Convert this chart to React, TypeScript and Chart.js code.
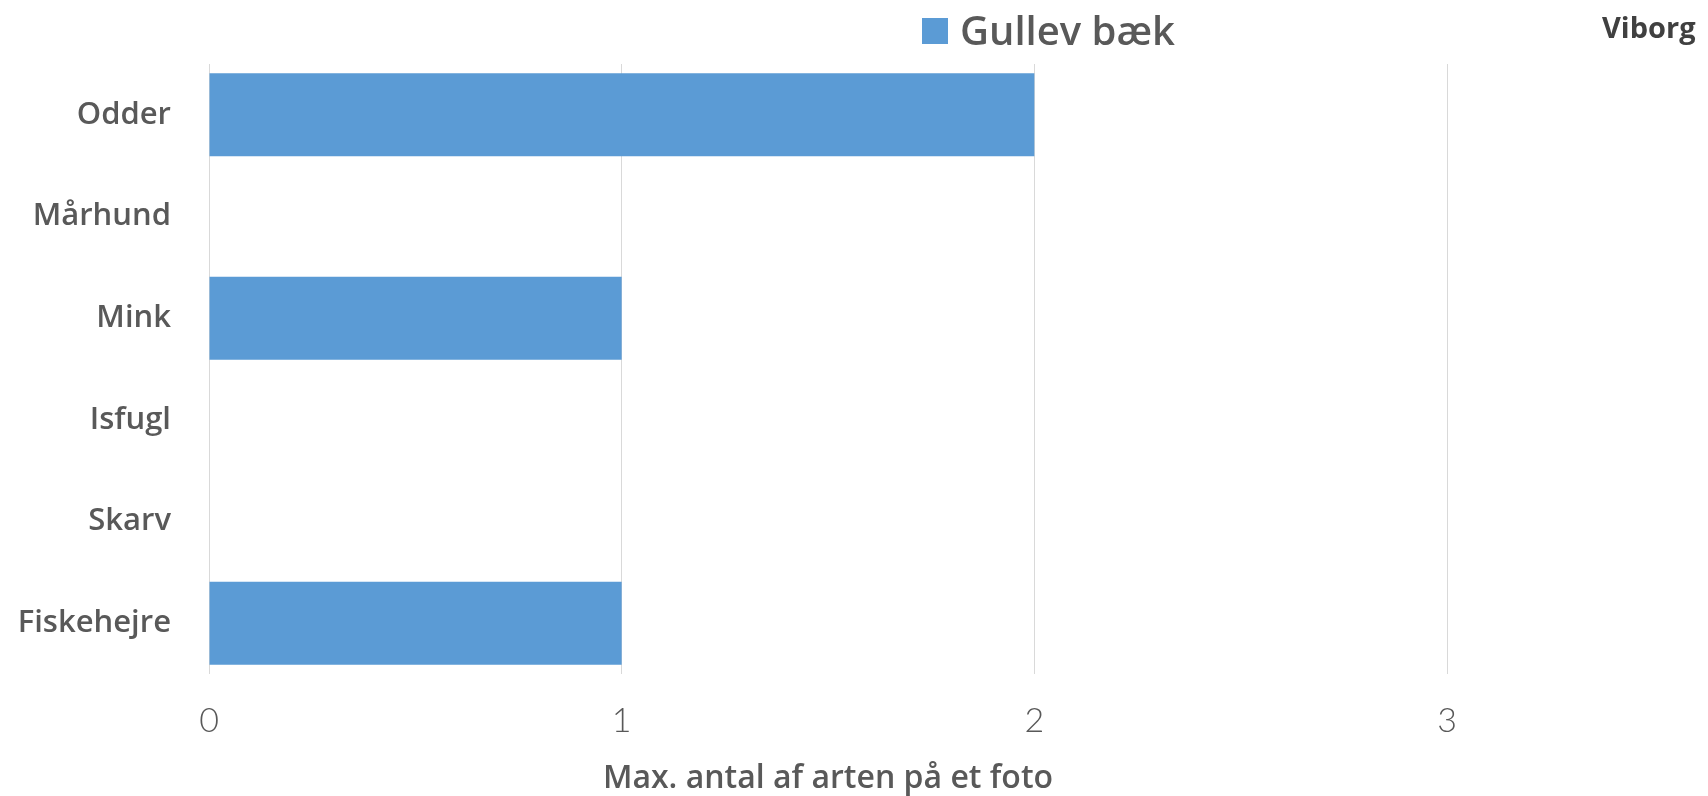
import React, { useEffect, useRef } from "react";
import { Chart, registerables } from "chart.js";

Chart.register(...registerables);

const categories = ["Odder", "Mårhund", "Mink", "Isfugl", "Skarv", "Fiskehejre"];
const gullevValues = [2, 0, 1, 0, 0, 1];
const seriesLabel = "Gullev bæk";
const sideTitle = "Viborg";
const xTitle = "Max. antal af arten på et foto";
const xMin = 0;
const xMax = 3;

const legendPlugin = {
  id: "customLegend",
  afterDraw(chart: any) {
    const ctx = chart.ctx;
    const ds = chart.data.datasets[0];
    ctx.save();
    ctx.fillStyle = ds.backgroundColor;
    ctx.fillRect(922, 18, 26, 26);
    ctx.fillStyle = "#595959";
    ctx.font = "600 40px 'Open Sans'";
    ctx.textBaseline = "alphabetic";
    ctx.textAlign = "left";
    ctx.fillText(ds.label, 960, 45);
    ctx.font = "bold 29px 'Open Sans'";
    ctx.fillStyle = "#404040";
    ctx.fillText(sideTitle, 1602, 38);
    ctx.restore();
  },
};

export default function App() {
  const ref = useRef<HTMLCanvasElement | null>(null);
  useEffect(() => {
    if (!ref.current) return;
    const chart = new Chart(ref.current, {
      type: "bar",
      data: {
        labels: categories,
        datasets: [
          {
            label: seriesLabel,
            data: gullevValues,
            backgroundColor: "#5B9BD5",
            categoryPercentage: 1,
            barPercentage: 0.816,
          },
        ],
      },
      options: {
        indexAxis: "y",
        animation: false,
        responsive: false,
        maintainAspectRatio: false,
        layout: { padding: { left: 0, right: 261, top: 64, bottom: 0 } },
        plugins: {
          legend: { display: false },
          tooltip: { enabled: false },
        },
        scales: {
          x: {
            min: xMin,
            max: xMax,
            ticks: {
              stepSize: 1,
              color: "#595959",
              font: { family: "Lato", size: 34, weight: "300" },
              padding: 27,
            },
            grid: { color: "#d9d9d9", drawTicks: false, lineWidth: 1 },
            border: { display: false },
            title: {
              display: true,
              text: xTitle,
              color: "#595959",
              font: { family: "'Open Sans'", size: 32, weight: "600" },
              padding: { top: 0, bottom: -2 },
            },
            afterFit(scale: any) {
              scale.height = 122;
            },
          },
          y: {
            ticks: {
              color: "#595959",
              font: { family: "'Open Sans'", size: 31, weight: "600" },
              padding: 30,
            },
            grid: { display: false },
            border: { display: false },
            afterFit(scale: any) {
              scale.width = 209;
            },
          },
        },
      },
      plugins: [legendPlugin],
    });
    return () => chart.destroy();
  }, []);
  return (
    <div style={{ position: "fixed", left: 0, top: 0, width: 1708, height: 796, background: "#fff" }}>
      <canvas ref={ref} width={1708} height={796} style={{ width: 1708, height: 796 }} />
    </div>
  );
}
